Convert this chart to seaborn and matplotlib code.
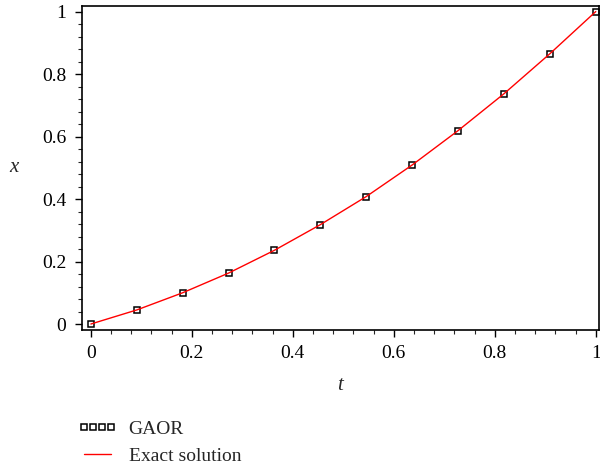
import matplotlib
matplotlib.use("Agg")
import matplotlib.pyplot as plt
import seaborn as sns
import pandas as pd
from matplotlib.ticker import MultipleLocator

t_vals = [0.0, 0.0909, 0.1818, 0.2727, 0.3636, 0.4545, 0.5455, 0.6364, 0.7273, 0.8182, 0.9091, 1.0]
gaor_vals = [0.0, 0.045, 0.100, 0.163, 0.236, 0.318, 0.408, 0.509, 0.619, 0.737, 0.865, 1.0]
exact_vals = [0.0, 0.045, 0.100, 0.163, 0.236, 0.318, 0.408, 0.509, 0.619, 0.737, 0.865, 1.0]
xticks = [0, 0.2, 0.4, 0.6, 0.8, 1]
xtick_labels = ["0", "0.2", "0.4", "0.6", "0.8", "1"]
yticks = [0, 0.2, 0.4, 0.6, 0.8, 1]
ytick_labels = ["0", "0.2", "0.4", "0.6", "0.8", "1"]

sns.set_style("ticks")
plt.rcParams['font.family'] = ['Liberation Serif', 'DejaVu Serif']

df = pd.DataFrame({"t": t_vals, "gaor": gaor_vals, "exact": exact_vals})

fig = plt.figure(figsize=(6, 4.68), dpi=100)
ax = fig.add_axes([0.136, 0.295, 0.862, 0.693])

sns.lineplot(data=df, x="t", y="gaor", ax=ax, linestyle="none", marker="s",
             markersize=4.2, markerfacecolor="white", markeredgecolor="black",
             markeredgewidth=1.1, label="GAOR", zorder=2)
sns.lineplot(data=df, x="t", y="exact", ax=ax, color="#ff0000", linewidth=1.0,
             label="Exact solution", zorder=3)

ax.set_xlim(-0.0184, 1.006)
ax.set_ylim(-0.019, 1.019)
ax.set_xticks(xticks)
ax.set_xticklabels(xtick_labels)
ax.set_yticks(yticks)
ax.set_yticklabels(ytick_labels)
ax.xaxis.set_minor_locator(MultipleLocator(0.04))
ax.yaxis.set_minor_locator(MultipleLocator(0.04))
ax.tick_params(which="major", direction="out", length=5, width=1, labelsize=14, colors="black", pad=6)
ax.tick_params(which="minor", direction="out", length=3, width=0.8)
for s in ax.spines.values():
    s.set_visible(True)
    s.set_linewidth(1.2)
    s.set_color("black")

ax.set_xlabel("t", fontsize=15, style="italic", labelpad=10)
ax.set_ylabel("x", fontsize=15, style="italic", rotation=0, labelpad=20, va="center")

ax.get_legend().remove()
h, l = ax.get_legend_handles_labels()
fig.legend(h, l, loc="upper left", bbox_to_anchor=(0.117, 0.118), frameon=False,
           numpoints=4, fontsize=14, handlelength=2.0, handletextpad=0.6,
           labelspacing=0.45, borderaxespad=0)

fig.savefig("out.png", dpi=100)
